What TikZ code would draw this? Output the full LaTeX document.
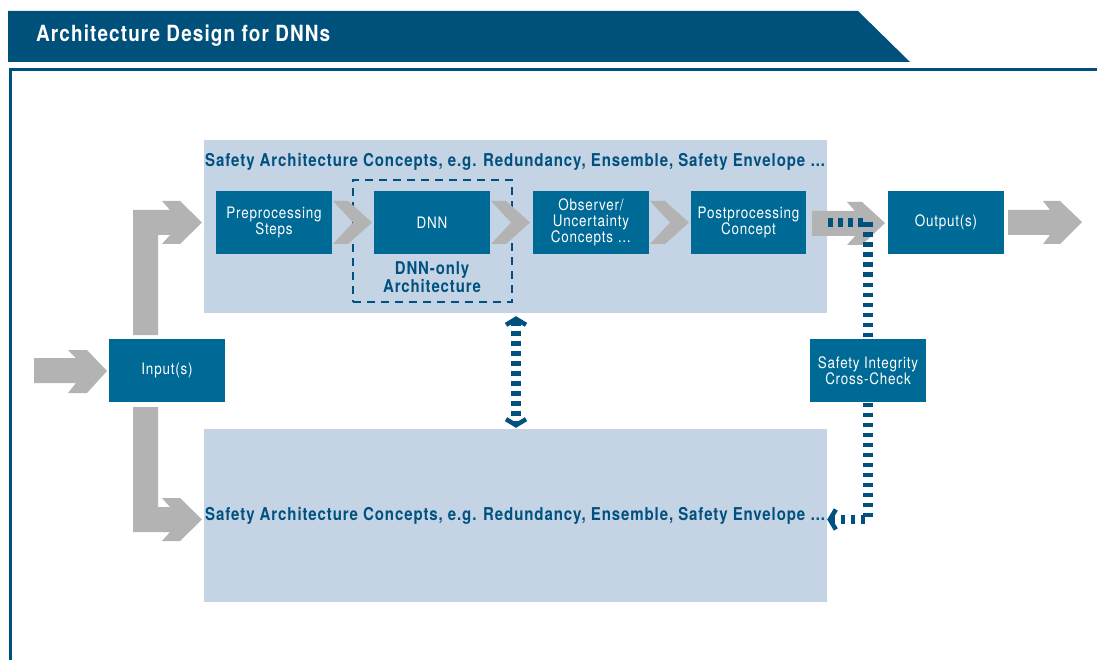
\documentclass[tikz,border=0pt]{standalone}
\usepackage{fontspec}
\setmainfont{TeX Gyre Heros}[FakeStretch=0.85, LetterSpace=5]
\usetikzlibrary{arrows.meta,calc}
\definecolor{hdblue}{RGB}{0,80,124}
\definecolor{boxblue}{RGB}{0,106,150}
\definecolor{txtblue}{RGB}{0,80,128}
\definecolor{panelblue}{RGB}{196,212,228}
\definecolor{arrgray}{RGB}{179,179,179}
\begin{document}
\begin{tikzpicture}[x=1pt,y=-1pt,
  bluebox/.style={fill=boxblue, text=white, minimum width=116pt, minimum height=63pt, inner sep=0pt, align=center, font=\fontsize{15.8}{16}\selectfont},
  panel/.style={fill=panelblue, minimum width=623pt, minimum height=173pt, inner sep=0pt},
  paneltitle/.style={text=txtblue, font=\bfseries\fontsize{17.7}{19}\selectfont, inner sep=0pt, anchor=west},
  dashln/.style={draw=txtblue, line width=9.5pt, dash pattern=on 4.5pt off 5.5pt},
  barb/.tip={Straight Barb[length=6pt, width=20pt, line width=4.5pt]},
  grayarr/.style={fill=arrgray}
]
\useasboundingbox (0,0) rectangle (1097,660);
% header and frame
\fill[hdblue] (8,11) -- (858,11) -- (910,62) -- (8,62) -- cycle;
\node[text=white, font=\bfseries\fontsize{22.3}{24}\selectfont, anchor=west, inner sep=0pt] (hdr) at (36,36) {Architecture Design for DNNs};
\draw[hdblue, line width=3pt] (1097,70) -- (10,70) -- (10,660);

% panels
\node[panel] (ptop) at (515.5,226.5) {};
\node[panel] (pbot) at (515.5,515.5) {};
\node[paneltitle] (ttop) at (205,162) {Safety Architecture Concepts, e.g. Redundancy, Ensemble, Safety Envelope \dots};
\node[paneltitle] (tbot) at (205,516) {Safety Architecture Concepts, e.g. Redundancy, Ensemble, Safety Envelope \dots};

% dashed DNN-only box
\node[draw=txtblue, line width=2pt, dash pattern=on 8pt off 6pt, minimum width=159pt, minimum height=122pt, inner sep=0pt] (dnnonly) at (432.5,241) {};
\node[text=txtblue, font=\bfseries\fontsize{17.6}{18}\selectfont, align=center, inner sep=0pt] (dnnlbl) at (432,277.5) {DNN-only\\Architecture};

% gray arrows
\fill[grayarr] (34,358) -- (76,358) -- (68,350) -- (87,350) -- (107,371) -- (87,393) -- (68,393) -- (76,383) -- (34,383) -- cycle;
\fill[grayarr] (133,335) -- (133,210) -- (170,210) -- (162,201) -- (180,201) -- (202,222.5) -- (180,244) -- (162,244) -- (170,235) -- (158,235) -- (158,335) -- cycle;
\fill[grayarr] (133,407) -- (133,532) -- (170,532) -- (162,541) -- (180,541) -- (202,519.5) -- (180,498) -- (162,498) -- (170,507) -- (158,507) -- (158,407) -- cycle;
\foreach \sx in {333,491,650}{
  \fill[grayarr, shift={(\sx,201)}] (0,0) -- (15,0) -- (39,21.5) -- (15,43) -- (0,43) -- (20,21.5) -- cycle;
}
\fill[grayarr] (812,211) -- (855,211) -- (847,202) -- (862,202) -- (885,223) -- (862,245) -- (847,245) -- (855,236) -- (812,236) -- cycle;
\fill[grayarr] (1008,210) -- (1050,210) -- (1043,201) -- (1060,201) -- (1082,222) -- (1060,244) -- (1043,244) -- (1050,235) -- (1008,235) -- cycle;

% dashed connectors
\coordinate (c1) at (828,222.5);
\coordinate (c2) at (868,222.5);
\coordinate (c3) at (868,519.5);
\draw[dashln, -barb] (c1) -- (c2) -- (c3) -- (pbot.east |- c3);
\draw[dashln, barb-barb] ([yshift=-3pt]ptop.south -| 516,0) -- ([yshift=1pt]pbot.north -| 516,0);

% blue boxes
\node[bluebox] (pre) at (274,222.5) {Preprocessing\\Steps};
\node[bluebox] (dnn) at (432,222.5) {DNN};
\node[bluebox] (obs) at (591,222.5) {Observer/\\Uncertainty\\Concepts \dots};
\node[bluebox, minimum width=115pt] (post) at (748.5,222.5) {Postprocessing\\Concept};
\node[bluebox] (out) at (946,222.5) {Output(s)};
\node[bluebox] (in) at (167,370.5) {Input(s)};
\node[bluebox] (sic) at (868,370.5) {Safety Integrity\\Cross-Check};
\end{tikzpicture}
\end{document}
